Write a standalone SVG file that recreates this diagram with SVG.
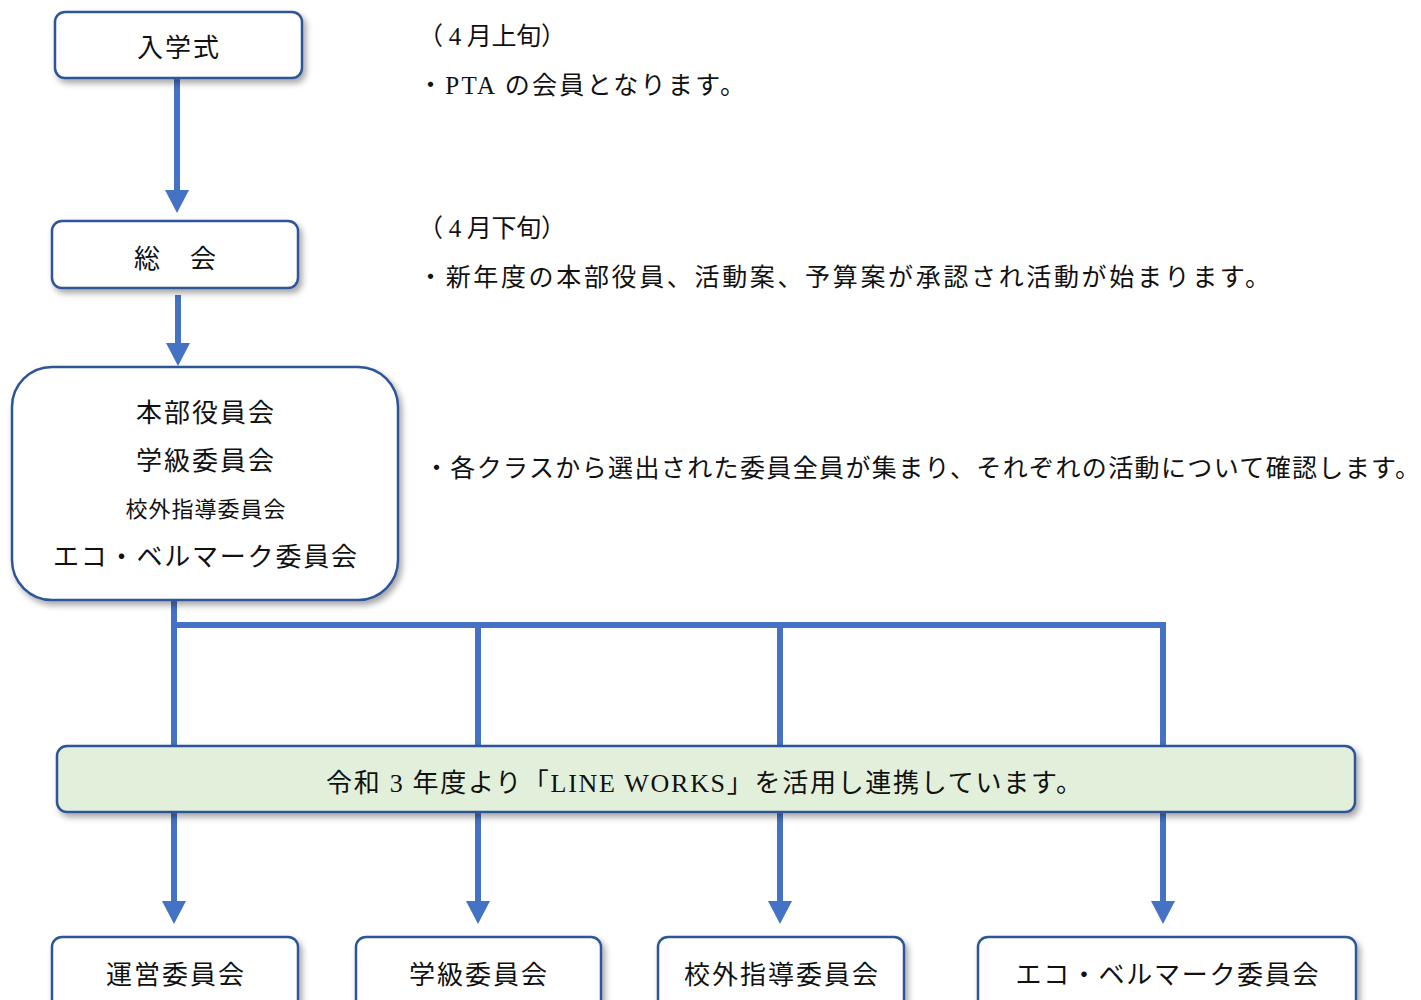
<svg xmlns="http://www.w3.org/2000/svg" width="1421" height="1000" viewBox="0 0 1421 1000">
<defs>
<filter id="sh" x="-10%" y="-10%" width="130%" height="140%">
<feDropShadow dx="3" dy="4" stdDeviation="3" flood-color="#000" flood-opacity="0.35"/>
</filter>
<style>
.box{fill:#fff;stroke:#2f5597;stroke-width:2.5;filter:url(#sh)}
.green{fill:#e2efda;stroke:#2f5597;stroke-width:2.5;filter:url(#sh)}
.t{font-family:"Liberation Serif","Noto Sans CJK JP",serif;font-size:26px;fill:#111;text-anchor:middle;letter-spacing:2px}
.d{font-family:"Liberation Serif","Noto Sans CJK JP",serif;font-size:25px;fill:#111}
.c{stroke:#4472c4;stroke-width:6;fill:none}
.ar{fill:#4472c4}
</style>
</defs>
<g id="connectors">
<line class="c" x1="177" y1="79" x2="177" y2="194"/>
<polygon class="ar" points="165,190 189,190 177,213"/>
<line class="c" x1="178" y1="295" x2="178" y2="347"/>
<polygon class="ar" points="166,343 190,343 178,366"/>
<line class="c" x1="174" y1="600" x2="174" y2="746"/>
<line class="c" x1="171" y1="625" x2="1166" y2="625"/>
<line class="c" x1="478" y1="625" x2="478" y2="746"/>
<line class="c" x1="780" y1="625" x2="780" y2="746"/>
<line class="c" x1="1163" y1="625" x2="1163" y2="746"/>
<line class="c" x1="174" y1="812" x2="174" y2="905"/>
<polygon class="ar" points="162,901 186,901 174,924"/>
<line class="c" x1="478" y1="812" x2="478" y2="905"/>
<polygon class="ar" points="466,901 490,901 478,924"/>
<line class="c" x1="780" y1="812" x2="780" y2="905"/>
<polygon class="ar" points="768,901 792,901 780,924"/>
<line class="c" x1="1163" y1="812" x2="1163" y2="905"/>
<polygon class="ar" points="1151,901 1175,901 1163,924"/>
</g>
<g id="n1"><rect class="box" x="55" y="12" width="247" height="66" rx="10"/><text class="t" x="179" y="57">入学式</text></g>
<g id="n2"><rect class="box" x="52" y="221" width="246" height="67" rx="10"/><text class="t" x="176" y="268">総　会</text></g>
<g id="n3"><rect class="box" x="12" y="367" width="386" height="233" rx="40"/>
<text class="t" x="206" y="422">本部役員会</text>
<text class="t" x="206" y="470">学級委員会</text>
<text class="t" x="206" y="517" style="font-size:22px;letter-spacing:1px">校外指導委員会</text>
<text class="t" x="206" y="566" textLength="306" lengthAdjust="spacing">エコ・ベルマーク委員会</text>
</g>
<g id="n4"><rect class="green" x="57" y="746" width="1298" height="66" rx="10"/><text class="t" x="705" y="792" textLength="758" lengthAdjust="spacing">令和 3 年度より「LINE WORKS」を活用し連携しています。</text></g>
<g id="n5"><rect class="box" x="52" y="937" width="246" height="80" rx="10"/><text class="t" x="176" y="984">運営委員会</text></g>
<g id="n6"><rect class="box" x="356" y="937" width="245" height="80" rx="10"/><text class="t" x="479" y="984">学級委員会</text></g>
<g id="n7"><rect class="box" x="658" y="937" width="246" height="80" rx="10"/><text class="t" x="782" y="984">校外指導委員会</text></g>
<g id="n8"><rect class="box" x="978" y="937" width="378" height="80" rx="10"/><text class="t" x="1168" y="984" textLength="305" lengthAdjust="spacing">エコ・ベルマーク委員会</text></g>
<g id="notes">
<text class="d" x="418" y="45" textLength="148" lengthAdjust="spacing">（ 4 月上旬）</text>
<text class="d" x="418" y="94" textLength="327" lengthAdjust="spacing">・PTA の会員となります。</text>
<text class="d" x="418" y="237" textLength="148" lengthAdjust="spacing">（ 4 月下旬）</text>
<text class="d" x="418" y="286" textLength="852" lengthAdjust="spacing">・新年度の本部役員、活動案、予算案が承認され活動が始まります。</text>
<text class="d" x="424" y="477" textLength="996" lengthAdjust="spacing">・各クラスから選出された委員全員が集まり、それぞれの活動について確認します。</text>
</g>
</svg>
